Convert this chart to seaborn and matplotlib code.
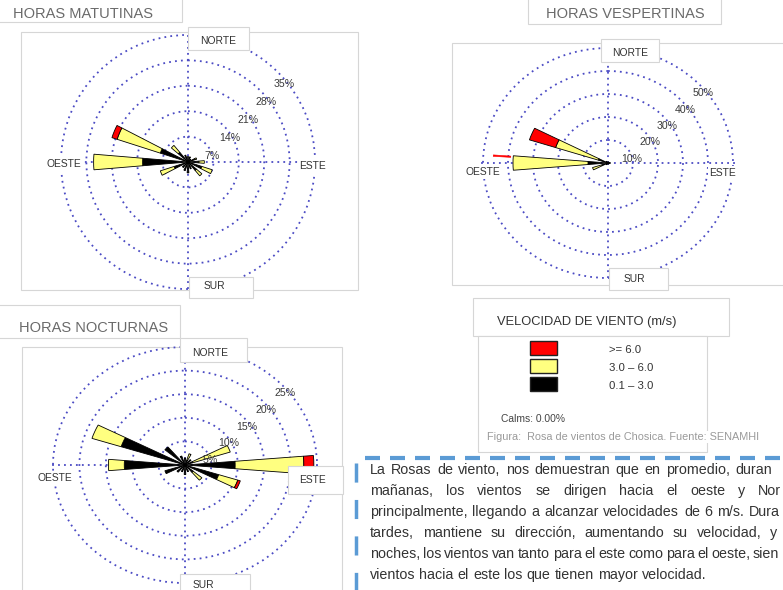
import matplotlib
matplotlib.use("Agg")
import matplotlib.pyplot as plt
import seaborn as sns
import numpy as np
from matplotlib import font_manager
from matplotlib.patches import Rectangle
from matplotlib.lines import Line2D

# --- datos: frecuencia (%) por rumbo y clase de velocidad ---
directions = ['N', 'NNE', 'NE', 'ENE', 'E', 'ESE', 'SE', 'SSE',
              'S', 'SSW', 'SW', 'WSW', 'W', 'WNW', 'NW', 'NNW']
speed_labels = ['0.1 – 3.0', '3.0 – 6.0', '>= 6.0']
speed_colors = ['#000000', '#ffff80', '#ff0000']

# horas matutinas
mat_low = [1.5, 1.5, 1.0, 2.0, 3.0, 4.0, 3.0, 2.0, 3.0, 2.5, 2.0, 4.0, 12.5, 8.0, 3.5, 2.0]
mat_mid = [0, 0, 0, 0.5, 1.5, 3.0, 2.0, 0, 0, 0, 0, 4.0, 13.5, 12.5, 2.5, 0]
mat_high = [0, 0, 0, 0, 0, 0, 0, 0, 0, 0, 0, 0, 0, 1.5, 0, 0]
mat_rings = [7, 14, 21, 28, 35]

# horas vespertinas
ves_low = [0.5, 0.5, 0.5, 0.5, 1.0, 0.5, 0.5, 0.5, 0.5, 0.5, 1.0, 2.5, 8.0, 4.0, 1.0, 0.5]
ves_mid = [0, 0, 0, 0, 0, 0, 0, 0, 0, 0, 0, 4.0, 30.0, 18.0, 0, 0]
ves_high = [0, 0, 0, 0, 0, 0, 0, 0, 0, 0, 0, 0, 0, 11.0, 0, 0]
ves_trace_w = 7.0   # trazo rojo fino sobre el oeste
ves_rings = [10, 20, 30, 40, 50]

# horas nocturnas
noc_low = [1.5, 1.0, 1.5, 1.5, 9.5, 6.7, 2.0, 1.5, 2.0, 1.5, 2.0, 4.0, 11.5, 12.7, 5.0, 2.0]
noc_mid = [0, 1.5, 0, 7.5, 13.0, 3.8, 2.2, 0, 0, 0, 0, 0, 3.0, 5.8, 0, 0]
noc_high = [0, 0, 0, 0, 1.9, 0.5, 0, 0, 0, 0, 0, 0, 0, 0, 0, 0]
noc_rings = [5, 10, 15, 20, 25]

# texto del recuadro (lo visible en la figura)
para = [
    "La Rosas de viento, nos demuestran que en promedio, duran",
    "mañanas, los vientos se dirigen hacia el oeste y Nor",
    "principalmente, llegando a alcanzar velocidades de 6 m/s. Dura",
    "tardes, mantiene su dirección, aumentando su velocidad, y",
    "noches, los vientos van tanto para el este como para el oeste, sien",
    "vientos hacia el este los que tienen mayor velocidad.",
]
para_last_x = [735, 758, 749, 770, 753, None]

sns.set_theme(style="white")
avail = {f.name for f in font_manager.fontManager.ttflist}
narrow = next((f for f in ['Liberation Sans Narrow', 'DejaVu Sans Condensed']
               if f in avail), None)
k = 1.0 if narrow else 0.84
plt.rcParams['font.family'] = [narrow or 'Liberation Sans', 'DejaVu Sans']

W_PX, H_PX = 783, 590
GRID = '#4b4bc4'
EDGE = '#d6d6d6'
fig = plt.figure(figsize=(W_PX / 100, H_PX / 100), dpi=100)
fig.patch.set_facecolor('white')


def frect(x0, y0, x1, y1, fc='white', ec=EDGE, z=1, lw=0.8):
    r = Rectangle((x0 / W_PX, 1 - y1 / H_PX), (x1 - x0) / W_PX, (y1 - y0) / H_PX,
                  transform=fig.transFigure, facecolor=fc, edgecolor=ec, lw=lw, zorder=z)
    fig.add_artist(r)


def ftext(x, y, s, size, color='#333333', ha='center', va='center', **kw):
    return fig.text(x / W_PX, 1 - y / H_PX, s, fontsize=size * k, color=color,
                    ha=ha, va=va, zorder=5, **kw)


def fline(xs, ys, **kw):
    fig.add_artist(Line2D([x / W_PX for x in xs], [1 - y / H_PX for y in ys],
                          transform=fig.transFigure, zorder=4, **kw))


def rose(cx, cy, sx, sy, rings, low, mid, high):
    rmax = rings[-1] * 1.02
    rx, ry = sx * rmax, sy * rmax
    ax = fig.add_axes([(cx - rx) / W_PX, 1 - (cy + ry) / H_PX, 2 * rx / W_PX, 2 * ry / H_PX],
                      projection='polar')
    ax.set_aspect('auto')
    ax.set_zorder(2)
    ax.set_theta_zero_location('N')
    ax.set_theta_direction(-1)
    ax.patch.set_alpha(0)
    ax.spines['polar'].set_visible(False)
    ax.set_thetagrids([0, 90, 180, 270], labels=[''] * 4)
    ax.set_rgrids(rings, labels=[''] * len(rings))
    ax.set_rlim(0, rmax)
    ax.grid(True, color=GRID, linestyle=(0, (1, 2.3)), linewidth=1.3)
    ax.set_axisbelow(True)
    theta = np.deg2rad(np.arange(len(directions)) * 22.5)
    bottom = np.zeros(len(directions))
    for vals, col in zip([low, mid, high], speed_colors):
        vals = np.asarray(vals, float)
        m = vals > 0
        ax.bar(theta[m], vals[m], width=np.deg2rad(9.5), bottom=bottom[m], color=col,
               edgecolor='black', linewidth=0.6, zorder=3)
        bottom += vals
    for rv in rings:
        ax.annotate(f'{rv}%', xy=(np.deg2rad(45), rv), xytext=(4.5, -8.5),
                    textcoords='offset points', ha='center', va='center',
                    fontsize=7.6, color='#3a3a3a', zorder=4)
    return ax, bottom


# ---------- panel backgrounds and title boxes ----------
frect(21, 32, 358, 290, z=0)
frect(452, 43, 790, 285, z=0)
frect(22, 347, 342, 600, z=0)
frect(-2, -2, 182, 22)
frect(528, -2, 721, 24)
frect(-2, 305, 180, 338)

ftext(13, 14, 'HORAS MATUTINAS', 12.5, color='#6a6a6a', ha='left')
ftext(625, 14, 'HORAS VESPERTINAS', 12.5, color='#6a6a6a')
ftext(19, 328, 'HORAS NOCTURNAS', 12.5, color='#6a6a6a', ha='left')

# ---------- wind roses ----------
rose(188, 162, 3.63, 3.63, mat_rings, mat_low, mat_mid, mat_high)
ax2, tot2 = rose(608, 163, 2.5, 2.3, ves_rings, ves_low, ves_mid, ves_high)
w = directions.index('W')
ax2.bar(np.deg2rad(w * 22.5 + 4), ves_trace_w, width=np.deg2rad(0.8), bottom=tot2[w] + 1,
        color=speed_colors[2], edgecolor=speed_colors[2], linewidth=0.4, zorder=3)
rose(185, 465, 5.28, 4.72, noc_rings, noc_low, noc_mid, noc_high)

# cardinal label boxes
for (x0, y0, x1, y1) in [(188, 27, 249, 50), (189, 277, 253, 298),
                         (601, 39, 659, 62), (609, 268, 668, 290),
                         (180, 338, 247, 362), (288, 466, 343, 494), (180, 574, 250, 600)]:
    frect(x0, y0, x1, y1, z=3)
card = dict(bbox=dict(facecolor='white', edgecolor='none', pad=1.2))
for x, y, s in [(218, 41, 'NORTE'), (313, 166, 'ESTE'), (214, 286, 'SUR'), (64, 164, 'OESTE'),
                (630, 53, 'NORTE'), (723, 173, 'ESTE'), (634, 279, 'SUR'), (483, 172, 'OESTE'),
                (210, 353, 'NORTE'), (313, 480, 'ESTE'), (203, 585, 'SUR'), (55, 478, 'OESTE')]:
    ftext(x, y, s, 8.8, **card)

# ---------- legend ----------
frect(473, 298, 729, 336)
frect(478, 336, 707, 452)
ftext(497, 322, 'VELOCIDAD DE VIENTO (m/s)', 11, ha='left')
for i, (lab, col) in enumerate(zip(speed_labels[::-1], speed_colors[::-1])):
    y0 = 341 + i * 18
    frect(530, y0, 557, y0 + 14, fc=col, ec='#222222', z=4, lw=1.0)
    ftext(609, y0 + 9, lab, 9.8, ha='left')
ftext(501, 419, 'Calms: 0.00%', 8.8, color='#444444', ha='left')
ftext(487, 437, 'Figura:  Rosa de vientos de Chosica. Fuente: SENAMHI', 9.3, color='#9a9a9a',
      ha='left', bbox=dict(facecolor='white', edgecolor='none', pad=1.0))

# ---------- dashed text box ----------
BLUE = '#5b9bd5'
fline([365, 790], [458, 458], color=BLUE, lw=3, linestyle=(0, (3.6, 2.4)), solid_capstyle='butt')
fline([356, 356], [463, 595], color=BLUE, lw=2.5, linestyle=(0, (5.5, 5.0)), solid_capstyle='butt')

renderer = fig.canvas.get_renderer()
PSIZE = 12.2
x0 = 370


def wwidth(s):
    t = ftext(0, 0, s, PSIZE)
    wd = t.get_window_extent(renderer).width
    t.remove()
    return wd


for i, (line, last_x) in enumerate(zip(para, para_last_x)):
    y = 474 + i * 21
    words = line.split(' ')
    widths = [wwidth(wd) for wd in words]
    if last_x is None:
        gap = wwidth('a a') - wwidth('aa')
    else:
        gap = (last_x - x0 - sum(widths[:-1])) / (len(words) - 1)
    x = x0
    for wd, wdt in zip(words, widths):
        ftext(x, y, wd, PSIZE, color='#333333', ha='left', va='baseline')
        x += wdt + gap

fig.savefig('out.png', dpi=100, facecolor='white')
